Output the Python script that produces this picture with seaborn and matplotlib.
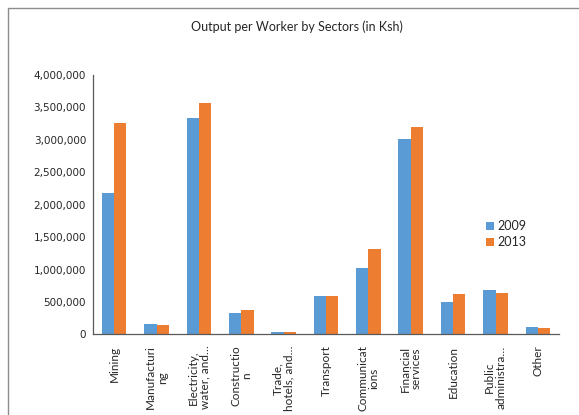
import pandas as pd
import numpy as np
import matplotlib
matplotlib.use("Agg")
import matplotlib.pyplot as plt
import seaborn as sns
from matplotlib.ticker import FuncFormatter
from matplotlib.patches import Rectangle

sectors = ["Mining", "Manufacturi\nng", "Electricity,\nwater, and…", "Constructio\nn",
           "Trade,\nhotels, and…", "Transport", "Communicat\nions", "Financial\nservices",
           "Education", "Public\nadministra…", "Other"]
out_2009 = [2180000, 155000, 3330000, 338000, 31000, 600000, 1020000, 3010000, 505000, 685000, 120000]
out_2013 = [3260000, 148000, 3560000, 370000, 36000, 588000, 1315000, 3200000, 623000, 638000, 95000]
years = ["2009", "2013"]

df = pd.DataFrame({
    "sector": sectors * 2,
    "year": [years[0]] * len(sectors) + [years[1]] * len(sectors),
    "value": out_2009 + out_2013,
})

sns.set_style("white")
fig = plt.figure(figsize=(5.79, 4.15), dpi=100)
ax = fig.add_axes([0.1606, 0.194, 0.805, 0.626])

sns.barplot(data=df, x="sector", y="value", hue="year", order=sectors,
            palette=["#5B9BD5", "#ED7D31"], width=0.58, saturation=1,
            linewidth=0, ax=ax)

ax.set_ylim(0, 4000000)
ax.set_yticks(np.arange(0, 4000001, 500000))
ax.yaxis.set_major_formatter(FuncFormatter(lambda v, p: f"{int(v):,}"))
ax.set_xlim(-0.5, len(sectors) - 0.5)
ax.set_xlabel("")
ax.set_ylabel("")

# category labels at centres, tick marks at boundaries
ax.set_xticks(range(len(sectors)))
ax.set_xticklabels(sectors, rotation=90, fontsize=8.5, family="Lato",
                   ha="center", va="top", multialignment="center", linespacing=1.05)
ax.tick_params(axis="x", which="major", length=0, pad=8)
ax.set_xticks(np.arange(-0.5, len(sectors), 1), minor=True)
ax.tick_params(axis="x", which="minor", length=4, width=0.8, color="#595959", direction="out")
ax.tick_params(axis="y", length=4, width=0.8, color="#595959", direction="out",
               labelsize=7.5, pad=1)

sns.despine(ax=ax)
for s in ["left", "bottom"]:
    ax.spines[s].set_color("#595959")
    ax.spines[s].set_linewidth(0.9)

ax.legend(loc="upper left", bbox_to_anchor=(0.829, 0.485), bbox_transform=fig.transFigure,
          frameon=False, handlelength=0.6, handleheight=0.6,
          handletextpad=0.3, labelspacing=0.35, borderpad=0,
          prop={"family": "Lato", "size": 9})

fig.text(0.512, 1 - 27 / 415, "Output per Worker by Sectors (in Ksh)", ha="center",
         va="center", fontsize=9, family="Lato")

fig.patches.append(Rectangle((8 / 579, -0.1), 1.2, 1 - 8 / 415 + 0.1, transform=fig.transFigure,
                             fill=False, edgecolor="#8c8c8c", linewidth=1))

fig.savefig("out.png", dpi=100)
